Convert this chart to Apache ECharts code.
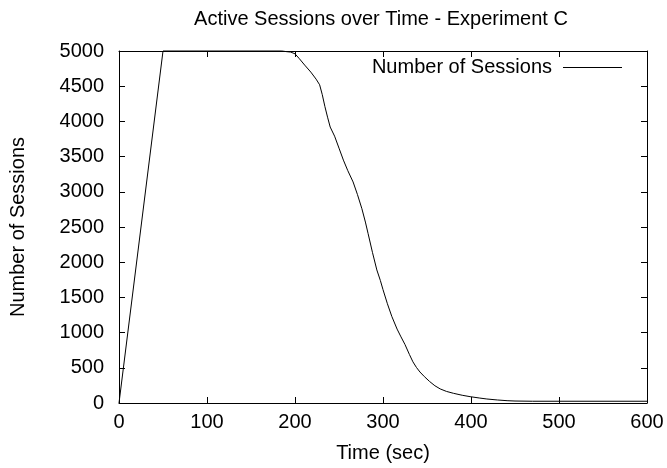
<!DOCTYPE html>
<html>
<head>
<meta charset="utf-8">
<script src="https://cdn.jsdelivr.net/npm/echarts@6/dist/echarts.min.js"></script>
<style>
  html, body { margin: 0; padding: 0; background: #fff; }
  #chart { width: 667px; height: 468px; }
</style>
</head>
<body>
<div id="chart"></div>
<script>
// values
const times = [0, 50, 185, 191, 195, 200, 205, 211, 218, 224, 228, 231, 234, 237, 240, 245,
    250, 255, 260, 266, 271, 276, 280, 283, 288, 293, 297, 300, 305, 310, 316, 320, 325,
    330, 334, 338, 342, 347, 353, 359, 365, 372, 380, 390, 399, 410, 418, 430, 441, 450,
    470, 500, 550, 600];
const sessions = [0, 5000, 5000, 4990, 4985, 4960, 4890, 4800, 4700, 4600, 4520, 4380, 4210, 4060, 3920, 3790,
    3620, 3450, 3300, 3140, 2960, 2760, 2570, 2410, 2140, 1890, 1740, 1610, 1410, 1230, 1050, 950, 830,
    690, 585, 505, 440, 375, 305, 245, 200, 165, 138, 110, 90, 70, 57, 43, 33, 28,
    25, 25, 25, 25];
const xTicks = [0, 100, 200, 300, 400, 500, 600];
const yTicks = [0, 500, 1000, 1500, 2000, 2500, 3000, 3500, 4000, 4500, 5000];

const font = 'Liberation Sans, Arial, Helvetica, sans-serif';
const black = '#000';

let chart = echarts.init(document.getElementById('chart'), null, { renderer: 'canvas' });

const points = times.map(function (t, i) { return [t, sessions[i]]; });

function axisBase(min, max, interval, ticks) {
    return {
        type: 'value',
        min: min,
        max: max,
        interval: interval,
        splitLine: { show: false },
        axisLine: { show: true, onZero: false, lineStyle: { color: black, width: 1 } },
        axisTick: { show: true, inside: true, length: 6, lineStyle: { color: black } }
    };
}

// plain numbers, no thousands separator
function plain(v) { return String(v); }

const option = {
    animation: false,
    backgroundColor: '#fff',
    title: {
        text: 'Active Sessions over Time - Experiment C',
        left: 376,
        top: 4,
        textAlign: 'center',
        textStyle: { color: black, fontFamily: font, fontSize: 20, fontWeight: 'normal' }
    },
    legend: {
        right: 40,
        top: 52.5,
        align: 'right',
        icon: 'rect',
        itemWidth: 59,
        itemHeight: 1,
        data: ['Number of Sessions'],
        textStyle: { color: black, fontFamily: font, fontSize: 20, padding: [0, 6, 0, 0] }
    },
    grid: { left: 119, right: 20, top: 51, bottom: 65, containLabel: false },
    xAxis: [
        Object.assign(axisBase(0, 600, 100, xTicks), {
            position: 'bottom',
            name: 'Time (sec)',
            nameLocation: 'middle',
            nameGap: 40,
            nameTextStyle: { color: black, fontFamily: font, fontSize: 20 },
            axisLabel: { color: black, fontFamily: font, fontSize: 20, margin: 9, formatter: plain }
        }),
        Object.assign(axisBase(0, 600, 100, xTicks), {
            position: 'top',
            axisLabel: { show: false }
        })
    ],
    yAxis: [
        Object.assign(axisBase(0, 5000, 500, yTicks), {
            position: 'left',
            name: 'Number of Sessions',
            nameLocation: 'middle',
            nameGap: 91,
            nameTextStyle: { color: black, fontFamily: font, fontSize: 20 },
            axisLabel: { color: black, fontFamily: font, fontSize: 20, margin: 15, formatter: plain }
        }),
        Object.assign(axisBase(0, 5000, 500, yTicks), {
            position: 'right',
            axisLabel: { show: false }
        })
    ],
    series: [
        {
            name: 'Number of Sessions',
            type: 'line',
            data: points,
            symbol: 'none',
            showSymbol: false,
            lineStyle: { color: black, width: 1 },
            itemStyle: { color: black },
            clip: false
        }
    ]
};

chart.setOption(option);
</script>
</body>
</html>
